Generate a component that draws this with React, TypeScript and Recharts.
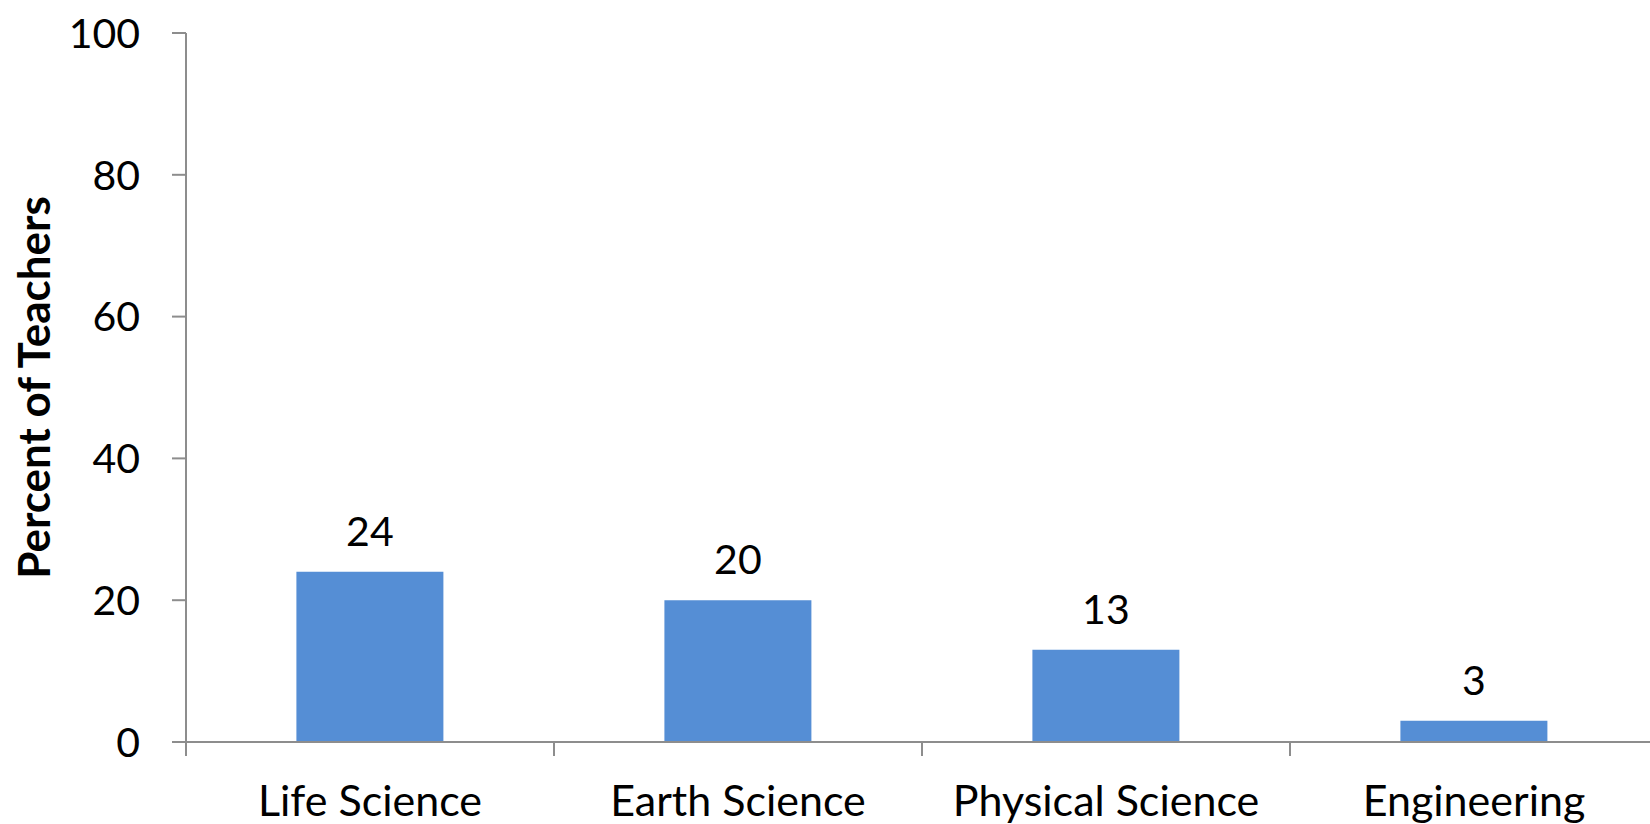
import { BarChart, Bar, XAxis, YAxis, LabelList } from 'recharts'

const categories = ['Life Science', 'Earth Science', 'Physical Science', 'Engineering']
const percentTeachers = [24, 20, 13, 3]
const yTicks = [0, 20, 40, 60, 80, 100]

const data = categories.map((name, i) => ({ name, value: percentTeachers[i] }))

const FONT = 'Lato, "Open Sans", sans-serif'
const AXIS = '#8d8d8d'
const BAR = '#558ed5'
const TICK_LEN = 14

function YTick({ x, y, payload }: any) {
  return (
    <text x={x - 32} y={y} dy="0.36em" textAnchor="end" fontSize={41} fill="#000">
      {payload.value}
    </text>
  )
}

// Excel-style: tick marks sit on the category boundaries, labels in the middle
function XTick({ x, y, payload, index }: any) {
  const half = payload.offset ?? 0
  const top = y - TICK_LEN
  const isLast = index === categories.length - 1
  return (
    <g>
      <line x1={x - half} y1={top} x2={x - half} y2={y} stroke={AXIS} strokeWidth={2} />
      {isLast && <line x1={x + half} y1={top} x2={x + half} y2={y} stroke={AXIS} strokeWidth={2} />}
      <text x={x} y={y + 60} textAnchor="middle" fontSize={43} fill="#000">
        {payload.value}
      </text>
    </g>
  )
}

function ValueLabel({ x, y, width, value }: any) {
  return (
    <text x={x + width / 2} y={y - 26} textAnchor="middle" fontSize={41} fill="#000">
      {value}
    </text>
  )
}

function YTitle({ viewBox }: any) {
  const cx = viewBox.x + 50
  const cy = viewBox.y + viewBox.height / 2
  return (
    <text
      x={cx}
      y={cy}
      transform={`rotate(-90 ${cx} ${cy})`}
      textAnchor="middle"
      fontSize={44}
      fontWeight={700}
      fill="#000"
    >
      Percent of Teachers
    </text>
  )
}

export default function App() {
  return (
    <div
      style={{
        position: 'fixed',
        left: 0,
        top: 0,
        width: 1650,
        height: 824,
        overflow: 'hidden',
        background: '#fff',
        fontFamily: FONT,
      }}
    >
      <BarChart
        width={1700}
        height={824}
        data={data}
        margin={{ top: 33, right: 42, bottom: 0, left: 0 }}
        barCategoryGap="30%"
      >
        <XAxis
          dataKey="name"
          height={82}
          axisLine={{ stroke: AXIS, strokeWidth: 2 }}
          tickLine={false}
          tickSize={TICK_LEN}
          tickMargin={0}
          tick={<XTick />}
          interval={0}
        />
        <YAxis
          domain={[0, 100]}
          ticks={yTicks}
          width={186}
          tickSize={TICK_LEN}
          tickMargin={0}
          axisLine={{ stroke: AXIS, strokeWidth: 2 }}
          tickLine={{ stroke: AXIS, strokeWidth: 2 }}
          tick={<YTick />}
          interval={0}
          label={<YTitle />}
        />
        <Bar dataKey="value" fill={BAR} isAnimationActive={false}>
          <LabelList dataKey="value" content={<ValueLabel />} />
        </Bar>
      </BarChart>
    </div>
  )
}
